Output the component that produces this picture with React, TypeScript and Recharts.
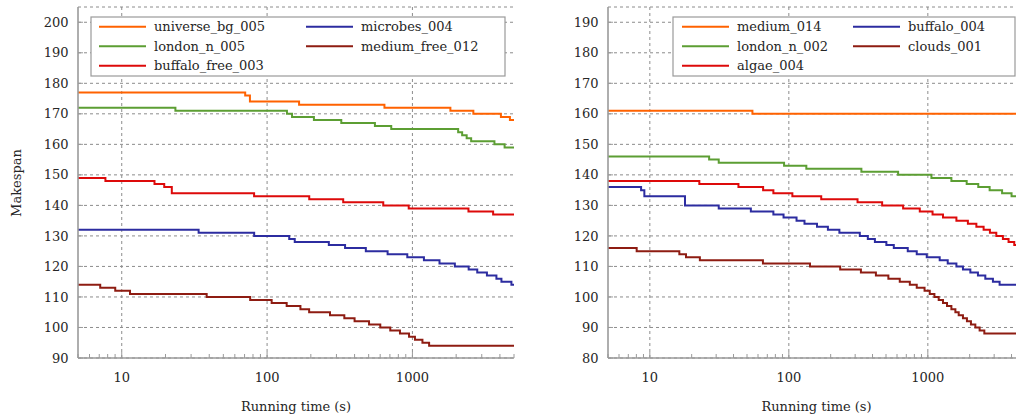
import React from "react";
import { LineChart, Line, XAxis, YAxis, CartesianGrid, ReferenceLine } from "recharts";

// running time (s), makespan
const universeBg005 = [[5, 177], [70.7, 176], [76.2, 174], [166, 173], [642, 172], [1825, 171], [2626, 170], [4064, 169], [4687, 168], [5000, 168]];
const londonN005 = [[5, 172], [23.4, 171], [137, 170], [148.5, 169], [210, 168], [324, 167], [552, 166], [715, 165], [2064, 164], [2199, 163], [2362, 162], [2536, 161], [3667, 160], [4309, 159], [5000, 159]];
const buffaloFree003 = [[5, 149], [7.72, 148], [16.8, 147], [19.6, 146], [22.1, 144], [81.4, 143], [195, 142], [334, 141], [630, 140], [943, 139], [2430, 138], [3592, 137], [5000, 137]];
const microbes004 = [[5, 132], [33.8, 131], [81.5, 130], [142, 129], [155, 128], [266, 127], [344, 126], [478, 125], [675, 124], [922, 123], [1200, 122], [1536, 121], [1959, 120], [2438, 119], [2793, 118], [3256, 117], [3784, 116], [4097, 115], [4799, 114], [5000, 114]];
const mediumFree012 = [[5, 114], [7.11, 113], [9.02, 112], [11.4, 111], [38.4, 110], [76.5, 109], [107.5, 108], [136.4, 107], [169.6, 106], [194.7, 105], [271, 104], [340, 103], [400, 102], [503, 101], [601, 100], [704, 99], [821, 98], [948, 97], [1041, 96], [1172, 95], [1303, 94], [5000, 94]];

const medium014 = [[5, 161], [54.7, 160], [5000, 160]];
const londonN002 = [[5, 146], [26.7, 145], [31.3, 144], [92.4, 143], [133.6, 142], [332.6, 141], [611, 140], [1061, 139], [1477, 138], [1903, 137], [2305, 136], [2783, 135], [3421, 134], [4002, 133], [5000, 133]];
const algae004 = [[5, 138], [22.7, 137], [43.4, 136], [65.3, 135], [77.4, 134], [106, 133], [171, 132], [312, 131], [469, 130], [664, 129], [875, 128], [1081, 127], [1285, 126], [1605, 125], [1941, 124], [2234, 123], [2519, 122], [2796, 121], [3108, 120], [3467, 119], [3808, 118], [4185, 117], [5000, 117]];
const buffalo004 = [[5, 136], [8.65, 135], [9.13, 133], [17.9, 130], [31.3, 129], [53.3, 128], [77.4, 127], [91.6, 126], [113.6, 125], [129.6, 124], [159.4, 123], [191, 122], [231, 121], [324, 120], [370, 119], [416, 118], [503, 117], [569, 116], [717, 115], [832, 114], [982, 113], [1217, 112], [1390, 111], [1605, 110], [1789, 109], [2022, 108], [2293, 107], [2591, 106], [2939, 105], [3283, 104], [5000, 104]];
const clouds001 = [[5, 116], [8.04, 115], [16.3, 114], [18.2, 113], [22.9, 112], [65.1, 111], [142, 110], [234, 109], [330, 108], [423, 107], [520, 106], [628, 105], [742, 104], [832, 103], [947, 102], [1032, 101], [1115, 100], [1197, 99], [1285, 98], [1374, 97], [1477, 96], [1578, 95], [1667, 94], [1789, 93], [1911, 92], [2042, 91], [2196, 90], [2358, 89], [2549, 88], [5000, 88]];

const xTicks = [5, 6, 7, 8, 9, 10, 20, 30, 40, 50, 60, 70, 80, 90, 100, 200, 300, 400, 500, 600, 700, 800, 900, 1000, 2000, 3000, 4000, 5000];
const xMajor = [10, 100, 1000];
const yTicksLeft = [90, 100, 110, 120, 130, 140, 150, 160, 170, 180, 190, 200];
const yTicksRight = [80, 90, 100, 110, 120, 130, 140, 150, 160, 170, 180, 190];

const ORANGE = "#ff6200";
const GREEN = "#5c9e33";
const RED = "#dd0a0a";
const BLUE = "#2c2ca0";
const DARKRED = "#8e1c12";

const FONT = "'DejaVu Serif', serif";
const TEXT = "#262626";
const AXIS = "#9a9a9a";
const GRID = "#8c8c8c";

const leftSeries = [
  { name: "universe_bg_005", pts: universeBg005, color: ORANGE },
  { name: "london_n_005", pts: londonN005, color: GREEN },
  { name: "buffalo_free_003", pts: buffaloFree003, color: RED },
  { name: "microbes_004", pts: microbes004, color: BLUE },
  { name: "medium_free_012", pts: mediumFree012, color: DARKRED },
];

const rightSeries = [
  { name: "medium_014", pts: medium014, color: ORANGE },
  { name: "london_n_002", pts: londonN002, color: GREEN },
  { name: "algae_004", pts: algae004, color: RED },
  { name: "buffalo_004", pts: buffalo004, color: BLUE },
  { name: "clouds_001", pts: clouds001, color: DARKRED },
];

function XTick(props: any) {
  const { x, y, payload } = props;
  const major = xMajor.includes(payload.value);
  return (
    <g>
      <line x1={x} x2={x} y1={y} y2={y - (major ? 6 : 4)} stroke={AXIS} strokeWidth={1} />
      {major && (
        <text x={x} y={y + 24} textAnchor="middle" fontSize={13} fill={TEXT} fontFamily={FONT}>
          {payload.value}
        </text>
      )}
    </g>
  );
}

function YTick(props: any) {
  const { x, y, payload } = props;
  return (
    <g>
      <line x1={x} x2={x + 5} y1={y} y2={y} stroke={AXIS} strokeWidth={1} />
      <text x={x - 9.5} y={y + 4.6} textAnchor="end" fontSize={13} fill={TEXT} fontFamily={FONT}>
        {payload.value}
      </text>
    </g>
  );
}

function Panel({ series, yDomain, yTicks, width }: { series: typeof leftSeries; yDomain: number[]; yTicks: number[]; width: number }) {
  return (
    <LineChart width={width} height={416} margin={{ top: 7, right: 6, left: 0, bottom: 0 }} style={{ fontFamily: FONT }}>
      <CartesianGrid vertical={false} stroke={GRID} strokeDasharray="3 3" />
      {xMajor.map((v) => (
        <ReferenceLine key={v} x={v} stroke={GRID} strokeDasharray="3 3" />
      ))}
      <XAxis
        type="number"
        dataKey="t"
        scale="log"
        domain={[5, 5000]}
        allowDataOverflow
        ticks={xTicks}
        interval={0}
        tickSize={0}
        tickMargin={0}
        tickLine={false}
        axisLine={{ stroke: AXIS, strokeWidth: 1.6 }}
        tick={(p: any) => <XTick {...p} />}
        height={58}
        label={{ value: "Running time (s)", position: "insideBottom", offset: 5, fontSize: 13, fill: TEXT, fontFamily: FONT }}
      />
      <YAxis
        type="number"
        domain={yDomain}
        allowDataOverflow
        ticks={yTicks}
        interval={0}
        tickSize={0}
        tickMargin={0}
        tickLine={false}
        axisLine={{ stroke: AXIS, strokeWidth: 1.6 }}
        tick={(p: any) => <YTick {...p} />}
        width={78}
      />
      {series.map((s) => (
        <Line
          key={s.name}
          data={s.pts.map(([t, v]) => ({ t, v }))}
          dataKey="v"
          name={s.name}
          type="stepAfter"
          stroke={s.color}
          strokeWidth={2}
          dot={false}
          activeDot={false}
          isAnimationActive={false}
        />
      ))}
    </LineChart>
  );
}

function LegendBox({ series, left, width, col1, col2 }: { series: typeof leftSeries; left: number; width: number; col1: number; col2: number }) {
  const rows = [26.7, 46.3, 65.7];
  return (
    <svg style={{ position: "absolute", left: 0, top: 0 }} width={1016} height={416}>
      <rect x={left} y={17} width={width} height={59} fill="#fff" stroke={AXIS} strokeWidth={1.2} />
      {series.map((s, i) => {
        const cx = i < 3 ? col1 : col2;
        const cy = rows[i < 3 ? i : i - 3];
        return (
          <g key={s.name}>
            <line x1={cx} x2={cx + 47} y1={cy} y2={cy} stroke={s.color} strokeWidth={2} />
            <text x={cx + 55} y={cy + 4.6} fontSize={13} fill={TEXT} fontFamily={FONT}>
              {s.name}
            </text>
          </g>
        );
      })}
    </svg>
  );
}

export default function App() {
  return (
    <div style={{ position: "absolute", left: 0, top: 0, width: 1016, height: 416, overflow: "hidden", background: "#fff" }}>
      <div style={{ position: "absolute", left: 0, top: 0 }}>
        <Panel series={leftSeries} yDomain={[90, 205]} yTicks={yTicksLeft} width={520} />
      </div>
      <div style={{ position: "absolute", left: 530, top: 0 }}>
        <Panel series={rightSeries} yDomain={[80, 195]} yTicks={yTicksRight} width={501} />
      </div>
      <LegendBox series={leftSeries} left={91} width={414} col1={99} col2={306} />
      <LegendBox series={rightSeries} left={673} width={342} col1={682} col2={853} />
      <svg style={{ position: "absolute", left: 0, top: 0 }} width={40} height={416}>
        <text x={21} y={183} transform="rotate(-90 21 183)" textAnchor="middle" fontSize={13} fill={TEXT} fontFamily={FONT}>
          Makespan
        </text>
      </svg>
    </div>
  );
}
